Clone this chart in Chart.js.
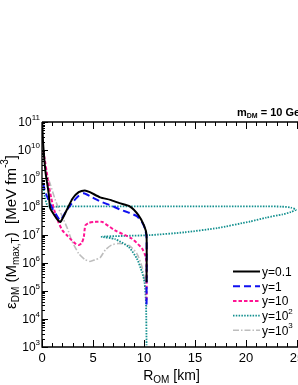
<!DOCTYPE html>
<html lang="en">
<head>
    <meta charset="UTF-8">
    <title>Dark matter energy density profiles</title>
    <script src="https://cdn.jsdelivr.net/npm/chart.js"></script>
    <style>
        body { margin: 0; background: #fff; }
        canvas { display: block; }
    </style>
</head>
<body>
    <canvas id="profileChart" width="298" height="385"></canvas>
    <script>
        // radius [km] and eps_DM [MeV fm^-3], one pair of arrays per y
        const r_y01 = [0.02, 0.1, 0.2, 0.35, 0.65, 0.8, 1.1, 1.4, 1.8, 2.4, 3.0, 3.6, 4.2, 4.7, 5.7, 6.7, 7.6, 8.6, 9.45, 10.0, 10.25, 10.25];
        const e_y01 = [1e11, 2e10, 6.3e9, 1.6e9, 3e8, 8.7e7, 5.6e7, 3.8e7, 2.8e7, 7.1e7, 1.9e8, 3.2e8, 3.7e8, 3.2e8, 2.1e8, 1.7e8, 1.3e8, 1e8, 4.9e7, 2.1e7, 9.5e6, 2e5];

        const r_y1 = [0.1, 0.3, 0.6, 1.0, 1.4, 1.8, 2.4, 3.0, 3.6, 4.1, 4.8, 5.7, 6.7, 7.6, 8.6, 9.3, 9.8, 10.1, 10.25, 10.25];
        const e_y1 = [6.8e8, 3.5e8, 1.8e8, 8.7e7, 5e7, 3.2e7, 7.1e7, 1.4e8, 2.4e8, 2.9e8, 2.2e8, 1.5e8, 1.1e8, 7.9e7, 5.8e7, 4.5e7, 2.8e7, 1.6e7, 7.9e6, 3.2e4];

        const r_y10 = [0.1, 0.3, 0.6, 0.9, 1.2, 1.6, 2.0, 2.5, 2.9, 3.3, 3.6, 3.9, 4.1, 4.25, 4.6, 5.2, 5.9, 7.15, 8.8, 9.8, 10.1, 10.25, 10.25];
        const e_y10 = [1e10, 4e9, 7.9e8, 2e8, 7.4e7, 2.8e7, 1.4e7, 8.9e6, 6.3e6, 4.7e6, 4.2e6, 5e6, 8.3e6, 2.1e7, 2.6e7, 2.8e7, 2.8e7, 1.4e7, 7.2e6, 3.2e6, 1.9e6, 1e6, 4e4];

        const r_y100 = [0.1, 0.3, 0.6, 2, 6, 12, 18, 22, 23.5, 24.4, 24.9, 24.4, 23.6, 22, 20.4, 17.2, 14, 10.6, 8, 5.85, 7.15, 8.5, 9.3, 9.8, 10.05, 10.2, 10.25];
        const e_y100 = [6.3e8, 2e8, 1e8, 1e8, 1e8, 1e8, 1e8, 1e8, 9.8e7, 9.1e7, 7.6e7, 6.3e7, 5.2e7, 4e7, 2.9e7, 1.7e7, 1.2e7, 9.5e6, 8.9e6, 8.3e6, 6.9e6, 3.6e6, 1.4e6, 4.7e5, 2e5, 3.2e4, 1.15e3];

        const r_y1000 = [0.3, 0.8, 1.3, 1.6, 2.0, 2.5, 2.9, 3.6, 4.2, 4.7, 5.2, 5.7, 6.2, 6.8, 7.5, 8.5, 9.3, 9.8, 10.1, 10.2, 10.25];
        const e_y1000 = [2e9, 6.3e8, 1.7e8, 8.9e7, 4.3e7, 1.6e7, 6.3e6, 2.1e6, 1.3e6, 1.1e6, 1.26e6, 1.5e6, 2.8e6, 4.2e6, 4.8e6, 4.2e6, 2.1e6, 7.1e5, 2e5, 8e4, 2.5e4];

        const seriesLabels = ['y=0.1', 'y=1', 'y=10', 'y=10^2', 'y=10^3'];
        const xTicks = [0, 5, 10, 15, 20, 25];
        const yExponents = [3, 4, 5, 6, 7, 8, 9, 10, 11];

        const FONT = '"Liberation Sans", Arial, sans-serif';
        const styles = [
            { color: '#000000', dash: [], width: 2 },
            { color: '#1010f0', dash: [7, 4], width: 2 },
            { color: '#ff1493', dash: [3.5, 2], width: 2 },
            { color: '#13908f', dash: [1.5, 1.3], width: 1.8 },
            { color: '#bdbdbd', dash: [6, 2, 1.5, 2], width: 1.6 }
        ];

        function toPoints(rs, es) {
            return rs.map((r, i) => ({ x: r, y: es[i] }));
        }

        const allSeries = [
            toPoints(r_y01, e_y01),
            toPoints(r_y1, e_y1),
            toPoints(r_y10, e_y10),
            toPoints(r_y100, e_y100),
            toPoints(r_y1000, e_y1000)
        ];

        // text with sub/superscript parts: [text, 'n'|'sub'|'sup']
        function richWidth(ctx, parts, size) {
            let w = 0;
            parts.forEach(([t, k]) => {
                ctx.font = (k === 'n' ? size : Math.round(size * 0.68)) + 'px ' + FONT;
                w += ctx.measureText(t).width;
            });
            return w;
        }
        function drawRich(ctx, parts, x, y, size, bold) {
            const b = bold ? 'bold ' : '';
            parts.forEach(([t, k]) => {
                const s = k === 'n' ? size : Math.round(size * 0.68);
                ctx.font = b + s + 'px ' + FONT;
                let dy = 0;
                if (k === 'sub') dy = size * 0.3;
                if (k === 'sup') dy = -size * 0.42;
                ctx.fillText(t, x, y + dy);
                x += ctx.measureText(t).width;
            });
            return x;
        }

        const framePlugin = {
            id: 'frame',
            afterDraw(chart) {
                const ctx = chart.ctx;
                const xs = chart.scales.x, ys = chart.scales.y;
                const a = chart.chartArea;
                ctx.save();
                ctx.strokeStyle = '#000';
                ctx.fillStyle = '#000';
                ctx.lineWidth = 1.3;
                ctx.setLineDash([]);
                ctx.beginPath();
                ctx.moveTo(a.left, a.top); ctx.lineTo(a.right + 2, a.top);
                ctx.moveTo(a.left, a.top); ctx.lineTo(a.left, a.bottom);
                ctx.lineTo(a.right + 2, a.bottom);
                ctx.stroke();

                // x ticks, inward, bottom and top
                ctx.lineWidth = 1;
                ctx.beginPath();
                for (let v = 0; v <= 25; v++) {
                    const px = Math.round(xs.getPixelForValue(v)) + 0.5;
                    const len = v % 5 === 0 ? 7 : 4;
                    ctx.moveTo(px, a.bottom); ctx.lineTo(px, a.bottom - len);
                    ctx.moveTo(px, a.top); ctx.lineTo(px, a.top + len);
                }
                // y ticks, inward on the left axis
                yExponents.forEach(ex => {
                    for (let m = 1; m <= 9; m++) {
                        const val = m * Math.pow(10, ex);
                        if (val > 1e11) break;
                        const py = Math.round(ys.getPixelForValue(val)) + 0.5;
                        const len = m === 1 ? 6 : 3;
                        ctx.moveTo(a.left, py); ctx.lineTo(a.left + len, py);
                    }
                });
                ctx.stroke();

                // tick labels
                ctx.textBaseline = 'middle';
                ctx.textAlign = 'center';
                ctx.font = '13px ' + FONT;
                xTicks.forEach(v => {
                    ctx.fillText(String(v), xs.getPixelForValue(v), a.bottom + 11);
                });
                ctx.textAlign = 'left';
                yExponents.forEach(ex => {
                    const parts = [['10', 'n'], [String(ex), 'sup']];
                    const w = richWidth(ctx, parts, 12);
                    drawRich(ctx, parts, a.left - 2 - w, ys.getPixelForValue(Math.pow(10, ex)) + 1, 12);
                });

                // axis titles
                const xt = [['R', 'n'], ['OM', 'sub'], [' [km]', 'n']];
                const xw = richWidth(ctx, xt, 14);
                drawRich(ctx, xt, (a.left + a.right) / 2 - xw / 2 + 2, a.bottom + 29, 14);

                const yt = [['\u03b5', 'n'], ['DM', 'sub'], [' (M', 'n'], ['max,T', 'sub'], [')  [MeV fm', 'n'], ['-3', 'sup'], [']', 'n']];
                const yw = richWidth(ctx, yt, 15);
                ctx.save();
                ctx.translate(12, 232);
                ctx.rotate(-Math.PI / 2);
                drawRich(ctx, yt, -yw / 2, 0, 15);
                ctx.restore();

                // annotation
                drawRich(ctx, [['m', 'n'], ['DM', 'sub'], [' = 10 GeV', 'n']], 237, 113, 11, true);

                // legend
                const lx0 = 233, lx1 = 260, ly0 = 271.5, step = 14.7;
                seriesLabels.forEach((lab, i) => {
                    const y = ly0 + i * step;
                    const st = styles[i];
                    ctx.strokeStyle = st.color;
                    ctx.lineWidth = st.width;
                    ctx.setLineDash(st.dash);
                    ctx.beginPath();
                    ctx.moveTo(lx0, y); ctx.lineTo(lx1, y);
                    ctx.stroke();
                    ctx.setLineDash([]);
                    ctx.fillStyle = '#000';
                    const parts = lab.includes('^')
                        ? [[lab.split('^')[0], 'n'], [lab.split('^')[1], 'sup']]
                        : [[lab, 'n']];
                    drawRich(ctx, parts, lx1 + 2, y + 1, 12);
                });
                ctx.restore();
            }
        };

        new Chart(document.getElementById('profileChart'), {
            type: 'scatter',
            data: {
                datasets: allSeries.map((pts, i) => ({
                    label: seriesLabels[i],
                    data: pts,
                    showLine: true,
                    pointRadius: 0,
                    borderColor: styles[i].color,
                    borderDash: styles[i].dash,
                    borderWidth: styles[i].width,
                    tension: 0.2,
                    fill: false
                }))
            },
            options: {
                responsive: false,
                animation: false,
                devicePixelRatio: 1,
                layout: { padding: { left: 42, top: 122, right: 1, bottom: 38 } },
                plugins: { legend: { display: false }, tooltip: { enabled: false } },
                scales: {
                    x: { type: 'linear', min: 0, max: 25, display: false },
                    y: { type: 'logarithmic', min: 1e3, max: 1e11, display: false }
                }
            },
            plugins: [framePlugin]
        });
    </script>
</body>
</html>
